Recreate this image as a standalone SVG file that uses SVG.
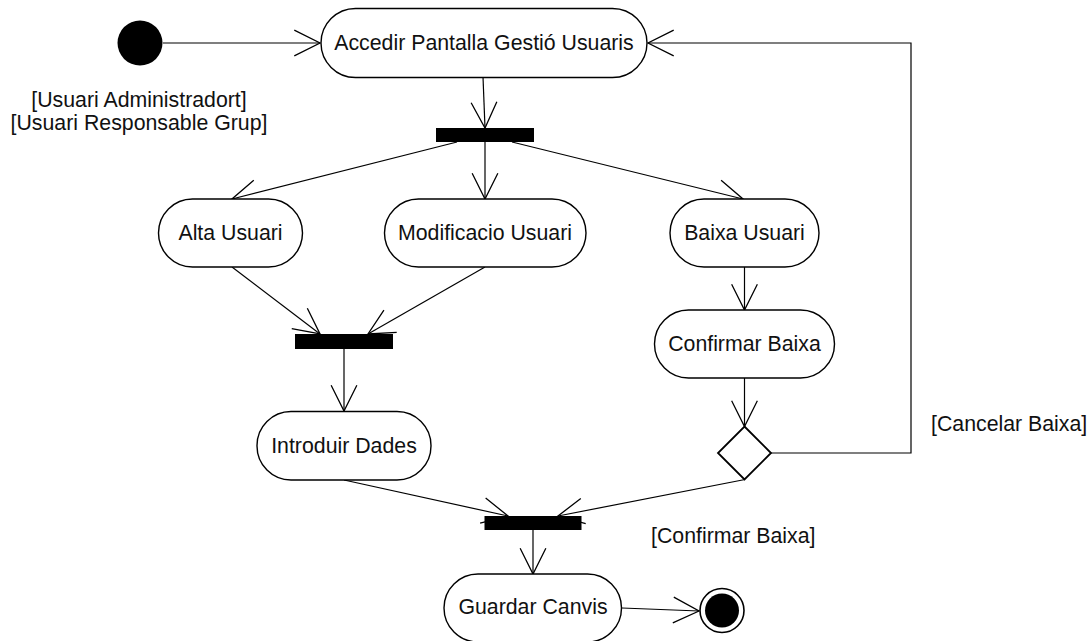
<svg xmlns="http://www.w3.org/2000/svg" width="1091" height="641" viewBox="0 0 1091 641">
<style>
text{font-family:"Liberation Sans",Arial,sans-serif;font-size:21.3px;fill:#111}
.n{fill:#fff;stroke:#000;stroke-width:1.4}
.c{fill:none;stroke:#000;stroke-width:1.2;marker-end:url(#a)}
.cn{fill:none;stroke:#000;stroke-width:1.2}
.bar{fill:#000}
.m{text-anchor:middle}
</style>
<defs>
<marker id="a" markerUnits="userSpaceOnUse" markerWidth="30" markerHeight="30" refX="0" refY="0" viewBox="-26 -14 28 28" orient="auto" overflow="visible">
<path d="M-24,-12 L0,0 L-24,12" fill="none" stroke="#000" stroke-width="1.2"/>
</marker>
</defs>
<rect width="1091" height="641" fill="#fff"/>
<g id="connectors">
<line class="c" x1="163" y1="43" x2="320" y2="43"/>
<line class="c" x1="483" y1="77" x2="485" y2="128"/>
<line class="c" x1="457" y1="142" x2="232" y2="199"/>
<line class="c" x1="485" y1="142" x2="485" y2="199"/>
<line class="c" x1="512" y1="142" x2="743" y2="199"/>
<line class="c" x1="232" y1="267" x2="320" y2="334"/>
<line class="c" x1="485" y1="267" x2="368" y2="334"/>
<line class="c" x1="344" y1="349" x2="344" y2="411"/>
<line class="c" x1="744.5" y1="267" x2="744.5" y2="310"/>
<line class="c" x1="744.5" y1="378" x2="744.5" y2="426.5"/>
<polyline class="c" points="771,453 911,453 911,43 648,43"/>
<line class="c" x1="344" y1="480" x2="508" y2="516"/>
<line class="c" x1="745" y1="479.5" x2="558" y2="516"/>
<line class="c" x1="533" y1="529" x2="533" y2="574"/>
<line class="c" x1="622" y1="608" x2="699" y2="611"/>
</g>
<g id="start"><circle cx="140" cy="43" r="22.5" fill="#000"/></g>
<g id="guard-start">
<text class="m" x="139" y="107">[Usuari Administradort]</text>
<text class="m" x="139" y="130">[Usuari Responsable Grup]</text>
</g>
<g id="accedir"><rect class="n" x="321" y="8.5" width="326" height="69" rx="34.5"/><text class="m" x="484" y="49.5">Accedir Pantalla Gestió Usuaris</text></g>
<g id="fork1"><rect class="bar" x="436" y="128" width="98" height="14"/></g>
<g id="alta"><rect class="n" x="158.5" y="199" width="144" height="68" rx="34"/><text class="m" x="230.5" y="240">Alta Usuari</text></g>
<g id="modif"><rect class="n" x="384.5" y="199" width="201.5" height="68" rx="34"/><text class="m" x="485" y="240">Modificacio Usuari</text></g>
<g id="baixa"><rect class="n" x="670" y="199" width="149" height="68" rx="34"/><text class="m" x="744.5" y="240">Baixa Usuari</text></g>
<g id="join1"><rect class="bar" x="295" y="334" width="98" height="15"/></g>
<g id="confirmar"><rect class="n" x="654.5" y="310" width="180" height="68" rx="34"/><text class="m" x="744.5" y="351">Confirmar Baixa</text></g>
<g id="decision"><polygon points="744.5,426.5 771,453 744.5,479.5 718,453" fill="#fff" stroke="#000" stroke-width="1.8"/></g>
<g id="guard-cancel"><text x="931" y="431">[Cancelar Baixa]</text></g>
<g id="introduir"><rect class="n" x="257" y="411.5" width="174" height="68.5" rx="34"/><text class="m" x="344" y="453">Introduir Dades</text></g>
<g id="join2"><rect class="bar" x="484.5" y="516" width="97" height="14"/></g>
<g id="guard-confirm"><text x="651" y="543">[Confirmar Baixa]</text></g>
<g id="guardar"><rect class="n" x="444" y="574" width="177.5" height="68" rx="34"/><text class="m" x="533" y="614">Guardar Canvis</text></g>
<g id="end"><circle cx="722" cy="610.5" r="22" fill="#fff" stroke="#000" stroke-width="1.6"/><circle cx="722" cy="610.5" r="17" fill="#000"/></g>
</svg>
